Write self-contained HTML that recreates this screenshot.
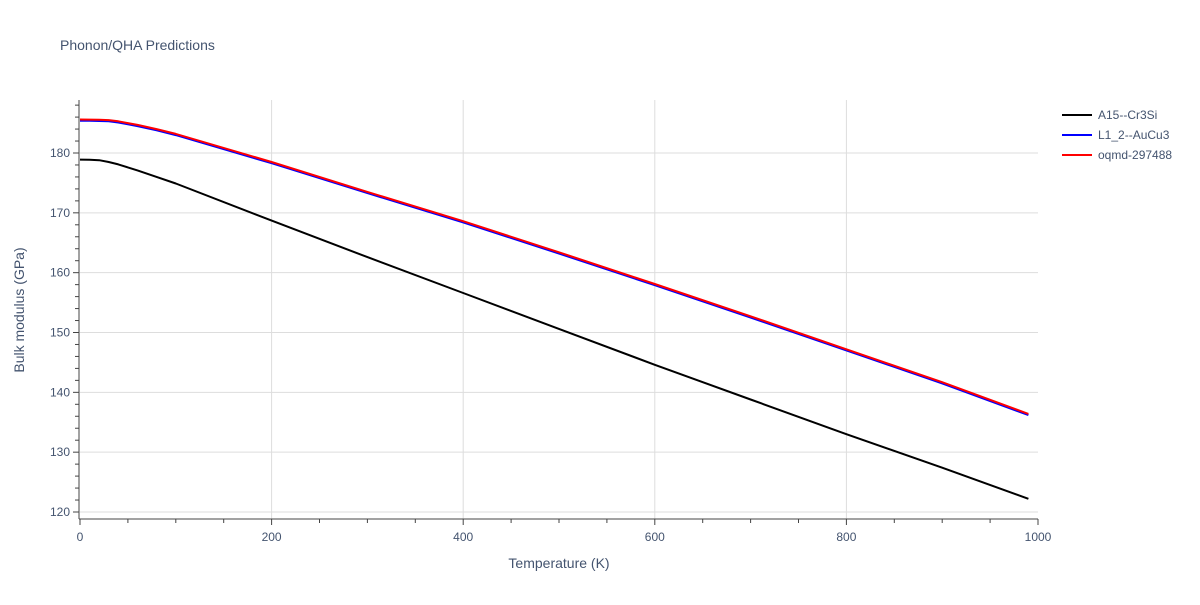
<!DOCTYPE html>
<html><head><meta charset="utf-8"><style>
body{margin:0;background:#fff;font-family:"Liberation Sans",Arial,sans-serif}
text{font-family:"Liberation Sans",Arial,sans-serif;fill:#44546f}
</style></head><body>
<svg id="chart" width="1200" height="600" xmlns="http://www.w3.org/2000/svg">
<text x="60" y="50" font-size="14">Phonon/QHA Predictions</text>
<g id="grid"></g><g id="axes"></g><g id="series"></g>
<text x="559" y="568" font-size="14" text-anchor="middle">Temperature (K)</text>
<text transform="translate(24,310) rotate(-90)" font-size="14" text-anchor="middle">Bulk modulus (GPa)</text>
<g id="legend"></g>
</svg>
<script>
const temps=[0,10,20,30,40,50,60,80,100,200,300,400,500,600,700,800,900,990];
const seriesNames=["A15--Cr3Si","L1_2--AuCu3","oqmd-297488"];
const seriesColors=["#000000","#0000ff","#ff0000"];
const cr3si=[178.9,178.88,178.8,178.5,178.1,177.6,177.1,176.0,174.9,168.7,162.6,156.6,150.6,144.6,138.8,133.0,127.4,122.2];
const aucu3=[185.4,185.38,185.35,185.3,185.1,184.8,184.5,183.8,183.0,178.3,173.3,168.4,163.2,157.9,152.5,147.0,141.5,136.2];
const oqmd=[185.6,185.58,185.55,185.5,185.3,185.0,184.7,184.0,183.2,178.5,173.5,168.6,163.4,158.1,152.7,147.2,141.7,136.4];
const xTicks=[0,200,400,600,800,1000];
const yTicks=[120,130,140,150,160,170,180];
const NS="http://www.w3.org/2000/svg";
const X0=80,X1=1038,Y180=153,Y120=512;
const xs=v=>X0+(X1-X0)*v/1000;
const ys=v=>Y120-(Y120-Y180)*(v-120)/60;
function mk(tag,attrs,parent){const e=document.createElementNS(NS,tag);for(const k in attrs)e.setAttribute(k,attrs[k]);parent.appendChild(e);return e;}
const grid=document.getElementById('grid'),axes=document.getElementById('axes'),ser=document.getElementById('series'),leg=document.getElementById('legend');
xTicks.forEach(t=>{
 if(t>0&&t<1000){const l=mk('line',{x1:xs(t),x2:xs(t),y1:100,y2:519,stroke:'#dddddd'},grid);
 
 }
 const tx=mk('text',{x:xs(t),y:541,'font-size':12,'text-anchor':'middle'},axes);tx.textContent=t;
 
 
});
for(let t=0;t<=1000;t+=50){const tk=mk('line',{x1:xs(t),x2:xs(t),y1:519,y2:t%200==0?525:523,stroke:'#444'},axes);
 
 }
yTicks.forEach(t=>{
 const l=mk('line',{x1:80,x2:1038,y1:ys(t),y2:ys(t),stroke:'#dddddd'},grid);
 
 
 const tx=mk('text',{x:70,y:ys(t)+4,'font-size':12,'text-anchor':'end'},axes);tx.textContent=t;
 
 
});
for(let t=120;t<=188;t+=2){const tk=mk('line',{x1:t%10==0?73:75,x2:79,y1:ys(t),y2:ys(t),stroke:'#444'},axes);
 
 }
const xa=mk('line',{x1:79,x2:1038,y1:519,y2:519,stroke:'#444'},axes);


const ya=mk('line',{x1:79,x2:79,y1:100,y2:519,stroke:'#444'},axes);


[cr3si,aucu3,oqmd].forEach((vals,i)=>{
 const d=vals.map((v,j)=>(j?'L':'M')+xs(temps[j]).toFixed(1)+','+ys(v).toFixed(1)).join(' ');
 const p=mk('path',{d:d,fill:'none',stroke:seriesColors[i],'stroke-width':2,'stroke-linejoin':'round'},ser);
 
 
 const ly=115+i*20;
 const g=mk('g',{},leg);
 
 
 mk('line',{x1:1062,x2:1092,y1:ly,y2:ly,stroke:seriesColors[i],'stroke-width':2},g);
 const t=mk('text',{x:1098,y:ly+4,'font-size':12},g);t.textContent=seriesNames[i];
});
</script>
</body></html>
